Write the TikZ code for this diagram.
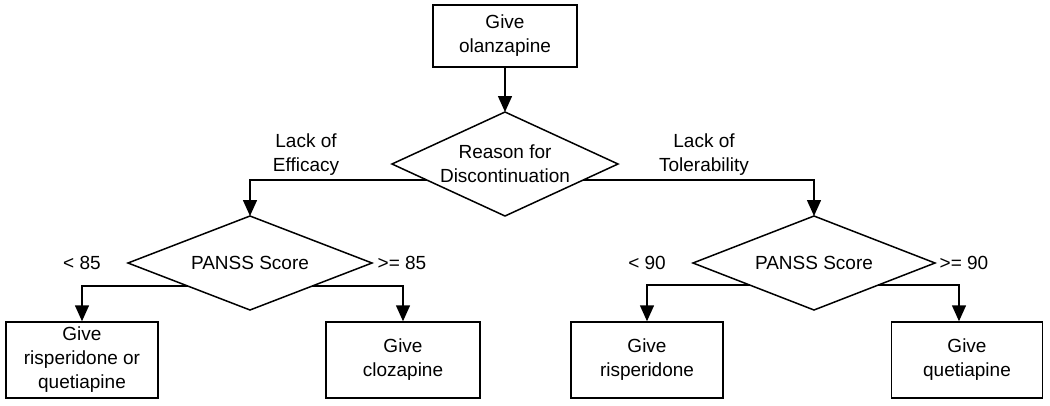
\documentclass[tikz,border=0pt]{standalone}
\usepackage{fontspec}
\setmainfont{Liberation Sans}
\usetikzlibrary{shapes.geometric,arrows.meta,calc}
\begin{document}
\begin{tikzpicture}[x=1pt,y=-1pt,
  every node/.style={font=\fontsize{19}{24}\selectfont, align=center, inner sep=0pt},
  box/.style={draw, line width=1.5pt, rectangle, minimum height=76pt},
  dec/.style={draw, line width=1.5pt, diamond, inner sep=0pt, outer sep=0pt},
  arr/.style={draw, line width=1.5pt, -{Triangle[length=16pt,width=14pt]}},
  lbl/.style={}]
\useasboundingbox (0,0) rectangle (1050,405);
\node[box, minimum width=144pt, minimum height=62pt] (top) at (505,36) {Give\\olanzapine};
\node[dec, minimum width=226pt, minimum height=104pt,
  label={[align=center]center:Reason for\\Discontinuation}] (md) at (505,164) {};
\node[dec, minimum width=244pt, minimum height=94pt,
  label={center:PANSS Score}] (ld) at (250,263) {};
\node[dec, minimum width=242pt, minimum height=94pt,
  label={center:PANSS Score}] (rd) at (814,263) {};
\node[box, minimum width=152pt] (b1) at (82,360) {Give\\risperidone or\\quetiapine};
\node[box, minimum width=154pt] (b2) at (403,360) {Give\\clozapine};
\node[box, minimum width=152pt] (b3) at (647,360) {Give\\risperidone};
\node[box, minimum width=151pt] (b4) at (967,360) {Give\\quetiapine};
\coordinate (b4in) at ($(b4.north)+(-8,0)$);
\draw[arr] (top.south) -- (md.north);
\draw[arr] ($(md.west)!0.31!(md.south)$) -| (ld.north);
\draw[arr] ($(md.east)!0.31!(md.south)$) -| (rd.north);
\draw[arr] ($(ld.west)!0.49!(ld.south)$) -| (b1.north);
\draw[arr] ($(ld.east)!0.49!(ld.south)$) -| (b2.north);
\draw[arr] ($(rd.west)!0.47!(rd.south)$) -| (b3.north);
\draw[arr] ($(rd.east)!0.47!(rd.south)$) -| (b4in);
\node[lbl] (l1) at (306,155) {Lack of\\Efficacy};
\node[lbl] (l2) at (704,155) {Lack of\\Tolerability};
\node[lbl] (l3) at (82,263) {< 85};
\node[lbl] (l4) at (402,263) {>= 85};
\node[lbl] (l5) at (647,263) {< 90};
\node[lbl] (l6) at (964,263) {>= 90};
\end{tikzpicture}
\end{document}
